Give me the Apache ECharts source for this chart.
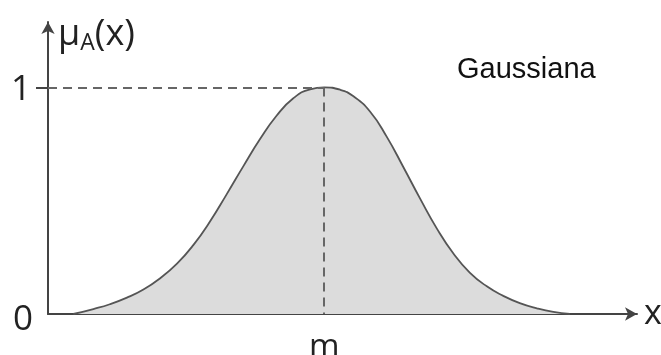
<!DOCTYPE html>
<html>
<head>
<meta charset="utf-8">
<script src="https://cdn.jsdelivr.net/npm/echarts@6/dist/echarts.min.js"></script>
<style>
  html, body { margin: 0; padding: 0; background: #fff; }
  #chart { width: 661px; height: 355px; }
</style>
</head>
<body>
<div id="chart"></div>
<script>
// Gaussian membership function μA(x), sampled along the curve
const xValues = [0.43, 0.77, 1.05, 1.34, 1.62, 1.90, 2.19, 2.47, 2.75, 3.03, 3.32, 3.60, 3.88, 4.16, 4.45,
                 4.69,
                 4.96, 5.18, 5.47, 5.75, 6.03, 6.32, 6.60, 6.88, 7.16, 7.45, 7.73, 8.01, 8.30, 8.58, 8.86];
const muValues = [0, 0.022, 0.043, 0.072, 0.108, 0.157, 0.222, 0.305, 0.408, 0.527, 0.654, 0.772, 0.875, 0.951, 0.992,
                  1.0,
                  0.990, 0.962, 0.893, 0.783, 0.650, 0.508, 0.378, 0.268, 0.183, 0.122, 0.080, 0.048, 0.025, 0.009, 0];
const yTickLabels = ['0', '1'];
const centerLabel = 'm';
const chartTitle = 'Gaussiana';

const points = xValues.map((x, i) => [x, muValues[i]]);
let peakIdx = 0;
muValues.forEach((v, i) => { if (v > muValues[peakIdx]) peakIdx = i; });
const peakX = xValues[peakIdx];
const peakY = muValues[peakIdx];

const axisColor = '#444';
const textColor = '#222';
const labelFont = '"Open Sans", "Noto Sans", sans-serif';

const chart = echarts.init(document.getElementById('chart'), null, { renderer: 'canvas' });
chart.setOption({
  animation: false,
  title: {
    text: chartTitle,
    left: 452,
    top: 50,
    textStyle: { fontFamily: '"Liberation Sans", Arial, sans-serif', fontSize: 29, fontWeight: 'normal', color: '#111' }
  },
  grid: { left: 48, right: 24, top: 22, bottom: 41, outerBoundsMode: 'none', containLabel: false },
  xAxis: {
    type: 'value',
    min: 0,
    max: 10,
    name: 'x',
    nameLocation: 'end',
    nameGap: 7,
    nameTextStyle: { fontFamily: labelFont, fontSize: 34, color: textColor, verticalAlign: 'middle', padding: [10, 0, 0, 0] },
    axisLine: { show: true, symbol: ['none', 'arrow'], symbolSize: [10, 12], lineStyle: { color: axisColor, width: 2 } },
    axisTick: { show: false },
    splitLine: { show: false },
    axisLabel: {
      customValues: [peakX],
      formatter: () => centerLabel,
      margin: 17,
      fontFamily: labelFont,
      fontSize: 33,
      color: textColor
    }
  },
  yAxis: {
    type: 'value',
    min: 0,
    max: 1.289,
    interval: 1,
    name: '{mu|μ}{sub|A}{mu|(x)}',
    nameLocation: 'end',
    nameGap: -13,
    nameTextStyle: {
      align: 'left',
      verticalAlign: 'middle',
      padding: [0, 0, 0, 10],
      rich: {
        mu: { fontFamily: labelFont, fontSize: 36, color: textColor },
        sub: { fontFamily: labelFont, fontSize: 23, color: textColor, verticalAlign: 'bottom', padding: [17, 0, 0, 0] }
      }
    },
    axisLine: { show: true, symbol: ['none', 'arrow'], symbolSize: [10, 12], lineStyle: { color: axisColor, width: 2 } },
    axisTick: { show: true, customValues: [1], length: 12, lineStyle: { color: axisColor, width: 2 } },
    splitLine: { show: false },
    axisLabel: {
      customValues: [0, 1],
      formatter: (v) => v === 0 ? '{zero|' + yTickLabels[0] + '}' : '{one|' + yTickLabels[1] + '}',
      margin: 15,
      rich: {
        zero: { fontFamily: labelFont, fontSize: 35, color: textColor, padding: [12, 0, 0, 0] },
        one: { fontFamily: labelFont, fontSize: 35, color: textColor, padding: [5, 2, 0, 0] }
      }
    }
  },
  series: [{
    type: 'line',
    data: points,
    smooth: 0.5,
    showSymbol: false,
    silent: true,
    lineStyle: { color: '#555', width: 1.8 },
    areaStyle: { color: '#dcdcdc', opacity: 1 },
    z: 2,
    markLine: {
      silent: true,
      symbol: ['none', 'none'],
      label: { show: false },
      lineStyle: { color: '#666', width: 2, type: [9, 6] },
      data: [
        [{ coord: [0, peakY] }, { coord: [peakX, peakY] }],
        [{ coord: [peakX, peakY] }, { coord: [peakX, 0] }]
      ]
    }
  }]
});
</script>
</body>
</html>
